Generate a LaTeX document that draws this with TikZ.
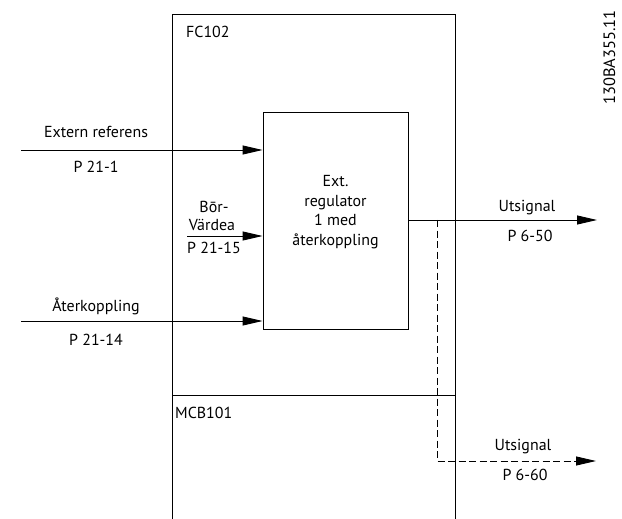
\documentclass[tikz,border=0pt]{standalone}
\usepackage{fontspec}
\setmainfont{PT Sans}
\usetikzlibrary{arrows.meta}
\begin{document}
\begin{tikzpicture}[x=1bp,y=-1bp,
  every node/.style={font=\fontsize{16}{18}\selectfont, inner sep=0pt},
  ln/.style={line width=0.9bp},
  arr/.style={ln,-{Triangle[length=20bp,width=9bp]}},
  dsh/.style={ln,dash pattern=on 7bp off 3.5bp},
  lbl/.style={anchor=base}]
\useasboundingbox (0,0) rectangle (622,519);
% outer frame
\coordinate (fbl) at (172,519);
\coordinate (ftl) at (172,14);
\coordinate (ftr) at (455,14);
\coordinate (fbr) at (455,519);
\draw[ln] (fbl) -- (ftl) -- (ftr) -- (fbr);
\coordinate (dl) at (172,395);
\coordinate (dr) at (455,395);
\draw[ln] (dl) -- (dr);
\node[anchor=base west] (fc) at (186,38) {FC102};
\node[anchor=base west] (mcb) at (175,418) {MCB101};
% inner box
\node[draw,ln,minimum width=145bp,minimum height=217bp] (reg) at (335.5,220.5) {};
\node[align=center,font=\fontsize{16}{19.5}\selectfont] (regt) at (335.5,212) {Ext.\\regulator\\1 med\\återkoppling};
% inputs
\coordinate (in1) at (21,150);
\draw[arr] (in1) -- (reg.west |- in1);
\node[lbl] (l1a) at (96,138) {Extern referens};
\node[lbl] (l1b) at (96,173) {P 21-1};
\coordinate (in2) at (187,236);
\draw[arr] (in2) -- (reg.west |- in2);
\node[lbl] (l2a) at (214,213) {Bōr-};
\node[lbl] (l2b) at (212,231) {Värdea};
\node[lbl] (l2c) at (214,253) {P 21-15};
\coordinate (in3) at (21,321);
\draw[arr] (in3) -- (reg.west |- in3);
\node[lbl] (l3a) at (96,311) {Återkoppling};
\node[lbl] (l3b) at (96,345) {P 21-14};
% outputs
\coordinate (o1s) at (408,220);
\coordinate (o1) at (597,220);
\draw[arr] (o1s) -- (o1);
\node[lbl] (u1a) at (527,212) {Utsignal};
\node[lbl] (u1b) at (530,242) {P 6-50};
\coordinate (d1) at (437,220);
\coordinate (d2) at (437,461);
\coordinate (o2) at (596,461);
\draw[dsh] (d1) -- (d2) -- ([xshift=-20bp]o2);
\draw[arr] ([xshift=-20.5bp]o2) -- (o2);
\node[lbl] (u2a) at (523,450) {Utsignal};
\node[lbl] (u2b) at (525,480) {P 6-60};
% code
\node[rotate=90,anchor=base east,font=\fontsize{16.5}{18}\selectfont] (code) at (615,10) {130BA355.11};
\end{tikzpicture}
\end{document}
